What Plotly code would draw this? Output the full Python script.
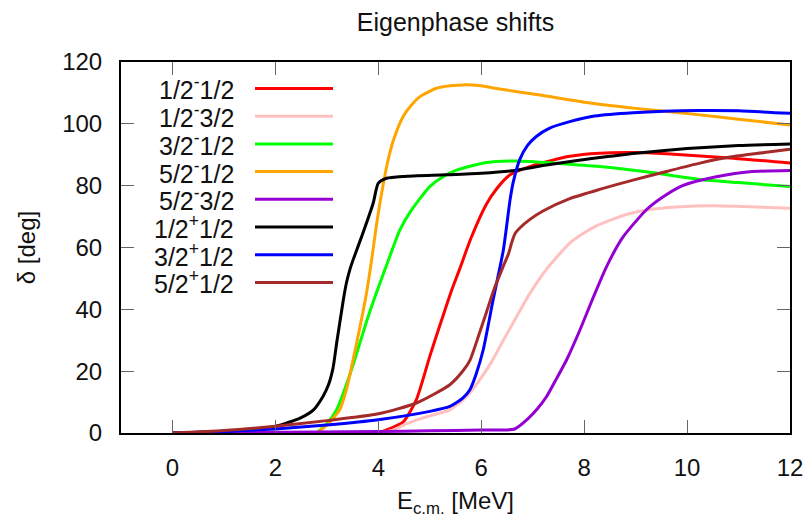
import plotly.graph_objects as go

# ---------------- data ----------------
names = ["1/2<sup>-</sup>1/2", "1/2<sup>-</sup>3/2", "3/2<sup>-</sup>1/2", "5/2<sup>-</sup>1/2",
         "5/2<sup>-</sup>3/2", "1/2<sup>+</sup>1/2", "3/2<sup>+</sup>1/2", "5/2<sup>+</sup>1/2"]
colors = ["#ff0000", "#ffc0c0", "#00ff00", "#ffa500", "#9400d3", "#000000", "#0000ff", "#a52a2a"]

# 1/2- 1/2 (red)
e_red = [4.0, 4.16, 4.48, 4.74, 5.0, 5.2, 5.4, 5.58, 5.8, 6.1, 6.3, 6.56, 7.0, 7.72, 8.3, 8.95, 9.6, 10.9, 12]
d_red = [0, 1, 3.5, 10.8, 24.8, 35, 45, 53, 63, 74, 79, 83.5, 86.5, 89.5, 90.5, 90.7, 90.3, 88.9, 87.3]

# 1/2- 3/2 (pink)
e_pink = [4.0, 4.3, 4.55, 4.8, 5.1, 5.39, 5.7, 5.97, 6.2, 6.43, 6.7, 6.94, 7.27, 7.72, 7.98, 8.24, 8.63,
          8.89, 9.28, 9.87, 10.5, 11.22, 12]
d_pink = [0, 1, 3, 4.5, 6, 7.5, 11.5, 17.2, 23, 30, 38, 45, 53, 61.4, 64.5, 67, 69.6,
          71, 72.3, 73.2, 73.5, 73.2, 72.7]

# 3/2- 1/2 (green)
e_green = [2.8, 3.0, 3.19, 3.45, 3.64, 3.8, 3.96, 4.22, 4.42, 4.64, 5.0, 5.25, 5.52, 6.1, 6.7, 7.5, 8.3,
           9.2, 10.25, 11, 12]
d_green = [0, 3, 7.5, 19, 29, 37.5, 45.2, 57, 65.7, 72, 79.7, 82.8, 85, 87.5, 88, 87.2, 86.2,
           84.5, 82, 81, 79.7]

# 5/2- 1/2 (orange)
e_orange = [2.8, 3.0, 3.25, 3.38, 3.51, 3.64, 3.77, 3.87, 3.96, 4.08, 4.19, 4.3, 4.48, 4.64, 4.81, 5.13,
            5.4, 5.65, 6.0, 6.23, 7.14, 8.0, 9.0, 10.25, 11, 12]
d_orange = [0, 2.5, 7.5, 14, 23.7, 34, 45.2, 56, 66.8, 79, 88.3, 95, 102.3, 106, 108.8, 111.5,
            112.3, 112.6, 112.3, 111.6, 109.3, 107, 105, 102.9, 101.5, 99.6]

# 5/2- 3/2 (purple)
e_purple = [0, 2.8, 4, 5, 6, 6.65, 6.9, 7.1, 7.27, 7.46, 7.66, 7.92, 8.18, 8.44, 8.76, 9.21, 9.5, 9.87,
            10.2, 10.57, 11.22, 12]
d_purple = [0, 0.3, 0.5, 0.7, 1, 1.3, 4.5, 8, 11.8, 17.5, 23.7, 33.4, 44, 54, 63.5, 72.2, 76, 79.7,
            81.5, 82.9, 84.5, 84.9]

# 1/2+ 1/2 (black)
e_black = [0, 1, 2, 2.5, 2.74, 2.93, 3.03, 3.12, 3.19, 3.25, 3.32, 3.38, 3.45, 3.51, 3.7, 3.9, 4.0, 4.16,
           4.5, 5.3, 6.0, 6.6, 7.2, 7.8, 8.5, 9.0, 10, 11, 12]
d_black = [0, 0.5, 2.1, 5, 7.5, 12, 15.5, 21, 29, 35.5, 43, 48.5, 53, 56, 64.6, 74.3, 80.8, 82.4,
           83, 83.5, 84, 84.8, 86.5, 88, 89.5, 90.5, 92, 93, 93.5]

# 3/2+ 1/2 (blue)
e_blue = [0, 1, 2, 3, 4, 5, 5.39, 5.64, 5.78, 5.9, 6.04, 6.23, 6.43, 6.56, 6.62, 6.75, 6.9, 7.07, 7.33,
          7.72, 8.2, 8.95, 10.25, 11, 12]
d_blue = [0, 0.5, 1.3, 2.6, 4.3, 7, 8.6, 11.3, 14, 19, 27, 43, 59.2, 75.4, 81, 88.5, 93, 95.9, 98.6,
          100.7, 102.5, 103.6, 104.3, 104.2, 103.4]

# 5/2+ 1/2 (brown)
e_brown = [0, 1, 2, 3, 4, 4.74, 5.39, 5.65, 5.78, 5.95, 6.1, 6.25, 6.43, 6.53, 6.6, 6.66, 6.75, 6.94,
           7.2, 7.72, 8.3, 8.95, 9.6, 10.25, 10.9, 11.5, 12]
d_brown = [0, 0.8, 2.2, 4, 6.2, 9.7, 15.6, 20.2, 23.5, 31.5, 39, 46.5, 54, 58, 62, 64.6, 66.3, 69,
           71.8, 75.8, 78.8, 81.8, 84.6, 87.3, 89.4, 90.7, 91.8]

series_e = [e_red, e_pink, e_green, e_orange, e_purple, e_black, e_blue, e_brown]
series_d = [d_red, d_pink, d_green, d_orange, d_purple, d_black, d_blue, d_brown]

x_ticks = [0, 2, 4, 6, 8, 10, 12]
y_ticks = [0, 20, 40, 60, 80, 100, 120]

# ---------------- figure ----------------
W, H = 810, 518
ML, MR, MT, MB = 121, 20, 62, 85
PW, PH = W - ML - MR, H - MT - MB
FONT = "Liberation Sans, Arial, sans-serif"


def px_x(px):
    return (px - ML) / PW


def px_y(py):
    return (H - MB - py) / PH


fig = go.Figure()
for e, d, nm, c in zip(series_e, series_d, names, colors):
    fig.add_trace(go.Scatter(x=e, y=d, mode="lines", name=nm,
                             line=dict(color=c, width=3, shape="spline", smoothing=0.6),
                             showlegend=False))

# manual legend: text on the left, line sample on the right (gnuplot style)
row0, drow = 88.5, 27.7
for i, (nm, c) in enumerate(zip(names, colors)):
    yc = row0 + i * drow
    fig.add_annotation(x=px_x(236), y=px_y(yc), xref="paper", yref="paper", text=nm,
                       showarrow=False, xanchor="right", yanchor="middle",
                       font=dict(family=FONT, size=25, color="#111"))
    fig.add_shape(type="line", xref="paper", yref="paper",
                  x0=px_x(255), x1=px_x(333), y0=px_y(yc), y1=px_y(yc),
                  line=dict(color=c, width=3))

axis_common = dict(showgrid=False, zeroline=False, showline=True, linecolor="black", linewidth=2,
                   mirror="ticks", ticks="inside", ticklen=13, tickwidth=1, tickcolor="#666",
                   automargin=False,
                   tickfont=dict(family=FONT, size=24, color="#111"))

fig.update_xaxes(range=[-1, 12], tickvals=x_ticks, ticklabelstandoff=12,
                 title=dict(text="E<sub>c.m.</sub> [MeV]", font=dict(family=FONT, size=24, color="#111"),
                            standoff=12),
                 **axis_common)
fig.update_yaxes(range=[0, 120], tickvals=y_ticks, ticklabelstandoff=12,
                 title=dict(text="δ [deg]", font=dict(family=FONT, size=24, color="#111"), standoff=20),
                 **axis_common)

fig.update_layout(
    width=W, height=H,
    margin=dict(l=ML, r=MR, t=MT, b=MB),
    paper_bgcolor="white", plot_bgcolor="white",
    title=dict(text="Eigenphase shifts", x=0.5, xref="paper", y=1 - 22 / H, yanchor="middle",
               font=dict(family=FONT, size=25, color="#111")),
    showlegend=False,
)

fig.write_html("out.html")
